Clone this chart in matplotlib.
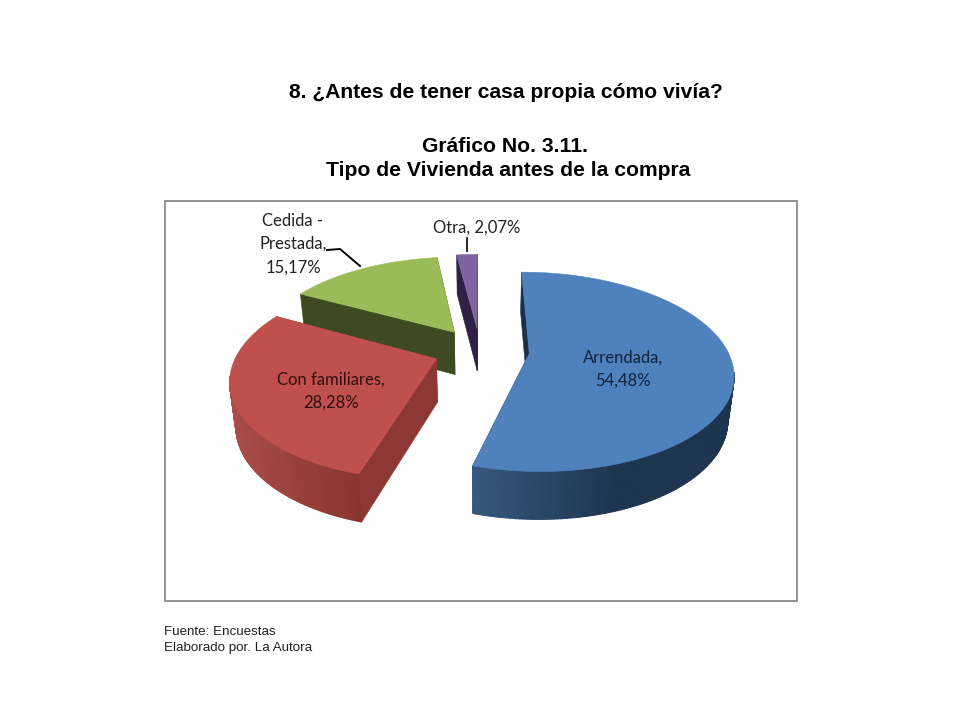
import matplotlib
matplotlib.use('Agg')
import matplotlib.pyplot as plt
import numpy as np
from matplotlib.collections import PolyCollection
from matplotlib.colors import to_rgb
from matplotlib.patches import Polygon, Rectangle

# chart values
categories = ['Arrendada', 'Con familiares', 'Cedida -\nPrestada', 'Otra']
values = [54.48, 28.28, 15.17, 2.07]
label_texts = ['Arrendada,\n54,48%', 'Con familiares,\n28,28%',
               'Cedida -\nPrestada,\n15,17%', 'Otra, 2,07%']

top_colors = ['#4f81bd', '#c0504d', '#9bbb59', '#8064a2']
rim_colors = [('#37597f', '#1e3550'), ('#aa4d4a', '#87362f'),
              ('#4a5a2a', '#3e4a22'), ('#3a2c55', '#2c2244')]
cut_colors = ['#1b3048', '#8e3836', '#3e4a22', '#2e2145']

# projection of the pie, in pixels
cx, cy = 480, 350
rx, ry = 198, 95
persp = 0.184
explode = [0.25, 0.235, 0.235, 0.235]
depth = 43
low_sx, low_sy = 0.975, 1.04


def project(x, y, lower=False):
    w = 1 + persp * y
    sx = rx * x / w
    sy = -ry * y / w
    if lower:
        return cx + low_sx * sx, cy + low_sy * sy + depth
    return cx + sx, cy + sy


fig = plt.figure(figsize=(9.6, 7.2), dpi=100)
ax = fig.add_axes([0, 0, 1, 1])
ax.set_xlim(0, 960)
ax.set_ylim(720, 0)
ax.axis('off')

ax.add_patch(Rectangle((164.5, 201), 632.5, 400, facecolor='white',
                       edgecolor='#8a8a8a', linewidth=1.3))

edges = np.cumsum([0] + values) / sum(values) * 2 * np.pi
slices = []
for i in range(len(values)):
    mid = (edges[i] + edges[i + 1]) / 2
    slices.append((np.cos(mid), i))

# far slices first so the near ones cover them
for _, i in sorted(slices, reverse=True):
    start, end = edges[i], edges[i + 1]
    mid = (start + end) / 2
    ox, oy = explode[i] * np.sin(mid), explode[i] * np.cos(mid)
    theta = np.linspace(start, end, 240)
    xs = ox + np.sin(theta)
    ys = oy + np.cos(theta)

    upper = np.array(project(xs, ys)).T
    lower = np.array(project(xs, ys, True)).T
    apex_up = project(ox, oy)
    apex_low = project(ox, oy, True)

    # the two cut faces
    for k in (0, -1):
        ax.add_patch(Polygon([upper[k], apex_up, apex_low, lower[k]],
                             facecolor=cut_colors[i], edgecolor=cut_colors[i], linewidth=0.4))

    # outer wall with a horizontal gradient, only the part facing us
    quads = []
    shades = []
    c0, c1 = np.array(to_rgb(rim_colors[i][0])), np.array(to_rgb(rim_colors[i][1]))
    x_left, x_right = upper[:, 0].min(), upper[:, 0].max()
    for k in range(len(theta) - 1):
        if np.cos(theta[k]) > -0.18:
            continue
        quads.append([upper[k], upper[k + 1], lower[k + 1], lower[k]])
        t = (upper[k, 0] - x_left) / (x_right - x_left)
        if i == 0:
            t = min(t / 0.55, 1)
        shades.append(c0 + (c1 - c0) * t)
    if quads:
        ax.add_collection(PolyCollection(quads, facecolors=shades, edgecolors=shades,
                                         linewidths=0.8))

    ax.add_patch(Polygon(np.vstack([[apex_up], upper]), facecolor=top_colors[i],
                         edgecolor=top_colors[i], linewidth=0.4))

# labels
label_font = 'Lato'
label_pos = [(623, 369), (331, 391), (293, 244), (477, 228)]
label_cols = ['#10233c', '#2e0f0e', '#222222', '#222222']
for txt, pos, col in zip(label_texts, label_pos, label_cols):
    ax.text(pos[0], pos[1], txt, ha='center', va='center', family=label_font,
            fontsize=12, color=col, linespacing=1.55)

ax.plot([327, 340, 360], [250, 249, 266], color='black', linewidth=1.4)
ax.plot([467, 467], [238, 251], color='black', linewidth=1.2)

# headings
title_font = 'Liberation Sans'
ax.text(506, 92, '8. ¿Antes de tener casa propia cómo vivía?', ha='center', va='center',
        family=title_font, fontweight='bold', fontsize=15.2, color='black')
ax.text(505, 146, 'Gráfico No. 3.11.', ha='center', va='center',
        family=title_font, fontweight='bold', fontsize=15.2, color='black')
ax.text(508, 170, 'Tipo de Vivienda antes de la compra', ha='center', va='center',
        family=title_font, fontweight='bold', fontsize=15.2, color='black')

ax.text(164, 632, 'Fuente: Encuestas', ha='left', va='center',
        family=title_font, fontsize=9.6, color='#222222')
ax.text(164, 648, 'Elaborado por. La Autora', ha='left', va='center',
        family=title_font, fontsize=9.6, color='#222222')

plt.savefig('out.png', dpi=100)
